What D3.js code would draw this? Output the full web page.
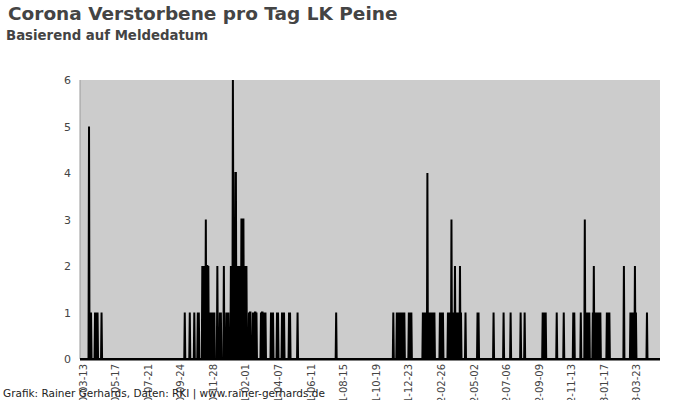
<!DOCTYPE html>
<html><head><meta charset="utf-8">
<script src="https://cdn.jsdelivr.net/npm/d3@7/dist/d3.min.js"></script>
<style>body{margin:0;background:#fff}svg{display:block}</style>
</head><body><svg id="c" width="700" height="400"></svg>
<script>
// Non-zero daily death counts (all other days are 0)
const deathDates = [
"2020-03-26","2020-03-30","2020-04-07","2020-04-09","2020-04-12","2020-04-20",
"2020-10-03","2020-10-13","2020-10-22","2020-10-29","2020-10-31",
"2020-11-07","2020-11-09","2020-11-10","2020-11-12","2020-11-14","2020-11-16","2020-11-17","2020-11-19",
"2020-11-23","2020-11-25","2020-11-27","2020-11-29","2020-12-01","2020-12-07","2020-12-12","2020-12-14",
"2020-12-20","2020-12-25","2020-12-27","2020-12-29",
"2021-01-03","2021-01-05","2021-01-07","2021-01-08","2021-01-10","2021-01-12","2021-01-13","2021-01-15",
"2021-01-17","2021-01-19","2021-01-21","2021-01-24","2021-01-25","2021-01-27","2021-01-28","2021-01-30",
"2021-02-01","2021-02-03","2021-02-08","2021-02-10","2021-02-11","2021-02-16","2021-02-18","2021-02-20",
"2021-02-21","2021-02-23","2021-03-04","2021-03-06","2021-03-07","2021-03-09","2021-03-11","2021-03-13",
"2021-03-24","2021-03-26","2021-03-28","2021-04-05","2021-04-07","2021-04-15","2021-04-17","2021-04-19",
"2021-04-29","2021-05-01","2021-05-16","2021-08-01",
"2021-11-23","2021-11-30","2021-12-02","2021-12-04","2021-12-06","2021-12-08","2021-12-10","2021-12-13",
"2021-12-15","2021-12-24","2021-12-26","2021-12-29",
"2022-01-21","2022-01-23","2022-01-25","2022-01-27","2022-01-30","2022-02-01","2022-02-03","2022-02-05",
"2022-02-07","2022-02-09","2022-02-11","2022-02-13","2022-02-24","2022-02-26","2022-02-28","2022-03-02",
"2022-03-12","2022-03-14","2022-03-16","2022-03-19","2022-03-21","2022-03-23","2022-03-26","2022-03-28",
"2022-03-30","2022-04-01","2022-04-03","2022-04-05","2022-04-07","2022-04-16","2022-05-10","2022-05-12",
"2022-06-11","2022-07-01","2022-07-15","2022-08-04","2022-08-12","2022-09-17","2022-09-19","2022-09-21",
"2022-09-23","2022-10-15","2022-10-29","2022-11-17","2022-11-19","2022-12-02","2022-12-10","2022-12-12",
"2022-12-14","2022-12-16","2022-12-19","2022-12-26","2022-12-28","2022-12-30",
"2023-01-01","2023-01-03","2023-01-05","2023-01-07","2023-01-10","2023-01-23","2023-01-25","2023-01-28",
"2023-02-26","2023-03-11","2023-03-13","2023-03-15","2023-03-17","2023-03-20","2023-03-22","2023-04-13"
];
const deathValues = [
5,1,1,1,1,1,
1,1,1,1,1,
2,2,1,2,3,2,2,2,
1,1,1,1,1,2,1,1,
2,1,1,1,
2,2,6,2,2,4,4,2,
2,2,2,3,3,3,3,2,
2,2,1,1,1,1,1,1,
1,1,1,1,1,1,1,1,
1,1,1,1,1,1,1,1,
1,1,1,1,
1,1,1,1,1,1,1,1,
1,1,1,1,
1,1,1,1,4,1,1,1,
1,1,1,1,1,1,1,1,
1,1,1,3,1,1,2,1,
1,1,1,2,1,1,1,1,
1,1,1,1,1,1,1,1,
1,1,1,1,1,1,3,1,
1,1,1,1,2,1,
1,1,1,1,1,1,1,1,
2,1,1,1,1,2,1,1
];
const rangeStart = "2020-03-08";
const rangeEnd = "2023-05-09";
const xTickDates = ["2020-03-13","2020-05-17","2020-07-21","2020-09-24","2020-11-28","2021-02-01",
"2021-04-07","2021-06-11","2021-08-15","2021-10-19","2021-12-23","2022-02-26","2022-05-02",
"2022-07-06","2022-09-09","2022-11-13","2023-01-17","2023-03-23"];
const yTickValues = [0,1,2,3,4,5,6];
const titleText = "Corona Verstorbene pro Tag LK Peine";
const subtitleText = "Basierend auf Meldedatum";
const footerText = "Grafik: Rainer Gerhards, Daten: RKI | www.rainer-gerhards.de";

const parse = d3.utcParse("%Y-%m-%d");
const lookup = new Map(deathDates.map((d,i)=>[d, deathValues[i]]));
const fmt = d3.utcFormat("%Y-%m-%d");
const days = d3.utcDay.range(parse(rangeStart), d3.utcDay.offset(parse(rangeEnd),1));
const series = days.map(d=>({date:d, v: lookup.get(fmt(d)) || 0}));

const L=80, R=660, T=80, B=359;
const svg = d3.select("#c");
const x = d3.scaleUtc().domain([parse(rangeStart), parse(rangeEnd)]).range([L,R]);
const y = d3.scaleLinear().domain([0,6]).range([B,T]);

svg.append("rect").attr("x",L).attr("y",T).attr("width",R-L).attr("height",B-T).attr("fill","#cccccc");

// left axis line
svg.append("line").attr("x1",L).attr("x2",L).attr("y1",T).attr("y2",B).attr("stroke","#999").attr("stroke-width",1);

const area = d3.area().x(d=>x(d.date)).y0(y(0)).y1(d=>y(d.v));
svg.append("path").datum(series).attr("d",area)
  .attr("fill","#000").attr("stroke","#000").attr("stroke-width",2);

// bottom axis
svg.append("line").attr("x1",L).attr("x2",R).attr("y1",B+0.5).attr("y2",B+0.5).attr("stroke","#000").attr("stroke-width",2);

// y axis labels
const yAxis = d3.axisLeft(y).tickValues(yTickValues).tickFormat(d3.format("d")).tickSize(0).tickPadding(9);
const gy = svg.append("g").attr("transform",`translate(${L},0)`).call(yAxis);
gy.select(".domain").remove();
gy.selectAll("text").attr("fill","#444").style("font-family","DejaVu Sans").style("font-size","11px");

// x axis labels
const xAxis = d3.axisBottom(x).tickValues(xTickDates.map(parse)).tickFormat(fmt).tickSize(0);
const gx = svg.append("g").attr("transform",`translate(0,${B})`).call(xAxis);
gx.select(".domain").remove();
gx.selectAll("text")
  .attr("transform","rotate(-90)")
  .attr("text-anchor","end")
  .attr("x",-5).attr("y",0).attr("dy","0.35em")
  .attr("fill","#444").style("font-family","DejaVu Sans").style("font-size","10px");

svg.append("text").attr("x",8).attr("y",20).text(titleText)
  .attr("fill","#444").style("font-family","DejaVu Sans").style("font-weight","bold").style("font-size","18.5px");
svg.append("text").attr("x",6).attr("y",40).text(subtitleText)
  .attr("fill","#444").style("font-family","DejaVu Sans").style("font-weight","bold").style("font-size","13.3px");
svg.append("text").attr("x",3).attr("y",397).text(footerText)
  .attr("fill","#222").style("font-family","DejaVu Sans").style("font-size","10.5px");
</script></body></html>
